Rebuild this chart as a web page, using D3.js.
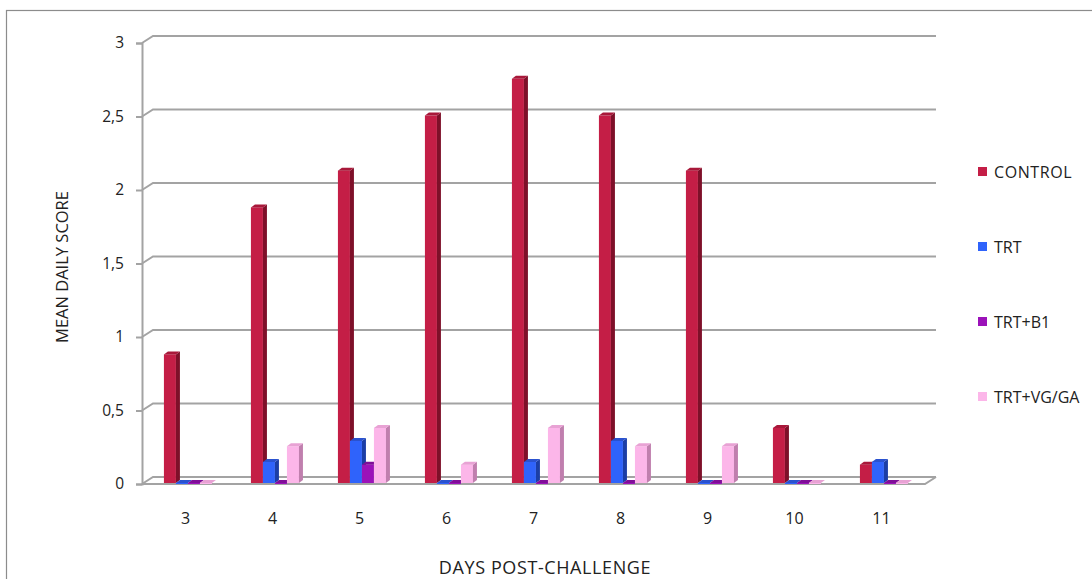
<!DOCTYPE html>
<html>
<head>
<meta charset="utf-8">
<script src="https://cdnjs.cloudflare.com/ajax/libs/d3/7.8.5/d3.min.js"></script>
<style>
  html, body { margin: 0; padding: 0; background: #fff; }
  svg { display: block; font-family: Lato, "Open Sans", "Liberation Sans", sans-serif; }
</style>
</head>
<body>
<svg id="chart" width="1092" height="579"></svg>
<script>
// Mean daily score per treatment group, days 3–11 after challenge
const days = ["3", "4", "5", "6", "7", "8", "9", "10", "11"];
const seriesNames = ["CONTROL", "TRT", "TRT+B1", "TRT+VG/GA"];
const control = [0.875, 1.875, 2.125, 2.5, 2.75, 2.5, 2.125, 0.375, 0.125];
const trt     = [0, 0.143, 0.286, 0, 0.143, 0.286, 0, 0, 0.143];
const trtB1   = [0, 0, 0.125, 0, 0, 0, 0, 0, 0];
const trtVgGa = [0, 0.25, 0.375, 0.125, 0.375, 0.25, 0.25, 0, 0];
const yTicks = [0, 0.5, 1, 1.5, 2, 2.5, 3];

const seriesValues = [control, trt, trtB1, trtVgGa];
const colors = {
  front: ["#c41e46", "#2f63fb", "#9b12b9", "#fcb6e9"],
  side:  ["#7e1029", "#1b3ea6", "#5c0a70", "#c07fae"],
  top:   ["#a8183a", "#2a52cf", "#7f0e98", "#e8a2d4"]
};

const svg = d3.select("#chart");
const axisColor = "#a3a3a3";
const textFont = "'Open Sans', Lato, sans-serif";

// outer frame
svg.append("rect")
  .attr("x", 6.5).attr("y", 10.5)
  .attr("width", 1100).attr("height", 600)
  .attr("fill", "none").attr("stroke", "#8c8c8c").attr("stroke-width", 1.2);

// plot geometry (front plane) and wall depth offset
const left = 142, right = 925;
const depthX = 11, depthY = -7;
const y = d3.scaleLinear().domain([0, 3]).range([484, 43]);
const x0 = d3.scaleBand().domain(days).range([left, right]).padding(0);
const bw = x0.bandwidth();
const x1 = d3.scaleBand().domain(seriesNames).range([bw * 0.252, bw * 0.804]).padding(0);

// back-wall gridlines with side-wall diagonals
const grid = svg.append("g");
yTicks.forEach(t => {
  grid.append("path")
    .attr("d", `M${left},${y(t)} L${left + depthX},${y(t) + depthY} L${right + depthX},${y(t) + depthY}`)
    .attr("fill", "none").attr("stroke", axisColor).attr("stroke-width", 2);
});

// floor front edge
grid.append("path")
  .attr("d", `M${left},${y(0)} L${right},${y(0)} L${right + depthX},${y(0) + depthY}`)
  .attr("fill", "none").attr("stroke", axisColor).attr("stroke-width", 2);

// y axis
const yAxis = d3.axisLeft(y).tickValues(yTicks).tickSize(6).tickPadding(12)
  .tickFormat(d => String(d).replace(".", ","));
const yg = svg.append("g").attr("transform", `translate(${left},0)`).call(yAxis);
yg.select(".domain").attr("stroke", axisColor).attr("stroke-width", 2);
yg.selectAll(".tick line").attr("stroke", axisColor).attr("stroke-width", 2);
yg.selectAll(".tick text").attr("font-size", 15.5).attr("fill", "#222")
  .attr("font-family", textFont);

// x category labels
const xAxis = d3.axisBottom(x0).tickSize(0).tickPadding(0);
const xg = svg.append("g").attr("transform", `translate(0,${y(0)})`).call(xAxis);
xg.select(".domain").remove();
xg.selectAll(".tick text").attr("font-size", 16).attr("fill", "#222")
  .attr("dy", "0").attr("y", 40)
  .attr("font-family", textFont);

// 3D bars
const bd = 4, bh = -3;
const base = y(0) - 1;
const bars = svg.append("g");
days.forEach((day, i) => {
  seriesNames.forEach((name, s) => {
    const v = seriesValues[s][i];
    const bx = x0(day) + x1(name);
    const w = x1.bandwidth();
    const top = y(v) - 1;
    const bot = base;
    const g = bars.append("g");
    g.append("rect")
      .attr("x", bx).attr("y", top).attr("width", w).attr("height", Math.max(bot - top, 1))
      .attr("fill", colors.front[s]);
    g.append("path")
      .attr("d", `M${bx + w},${top} L${bx + w + bd},${top + bh} L${bx + w + bd},${bot + bh} L${bx + w},${bot} Z`)
      .attr("fill", colors.side[s]);
    g.append("path")
      .attr("d", `M${bx},${top} L${bx + bd},${top + bh} L${bx + w + bd},${top + bh} L${bx + w},${top} Z`)
      .attr("fill", colors.top[s]);
  });
});

// axis titles
svg.append("text")
  .attr("transform", `translate(68,267) rotate(-90)`)
  .attr("text-anchor", "middle")
  .attr("font-family", textFont)
  .attr("font-size", 16.5).attr("fill", "#222")
  .text("MEAN DAILY SCORE");

svg.append("text")
  .attr("x", 545).attr("y", 574)
  .attr("text-anchor", "middle")
  .attr("font-family", textFont)
  .attr("font-size", 18).attr("letter-spacing", 0.6).attr("fill", "#222")
  .text("DAYS POST-CHALLENGE");

// legend
const legendY = [172, 247, 322, 397];
const legend = svg.append("g");
seriesNames.forEach((name, s) => {
  legend.append("rect")
    .attr("x", 978).attr("y", legendY[s] - 5).attr("width", 9).attr("height", 9)
    .attr("fill", colors.front[s]);
  legend.append("text")
    .attr("x", 994).attr("y", legendY[s] + 5.5)
    .attr("font-family", textFont)
    .attr("font-size", 16).attr("fill", "#222")
    .attr("letter-spacing", s === 0 ? 0.6 : 0)
    .text(name);
});
</script>
</body>
</html>
